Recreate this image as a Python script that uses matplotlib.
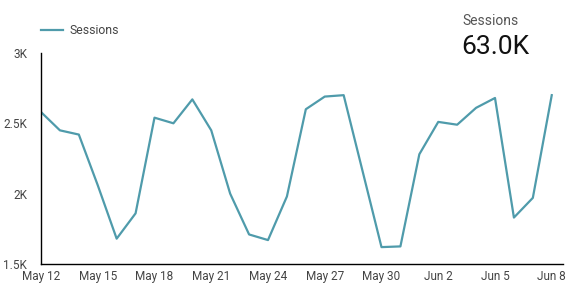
import numpy as np
import pandas as pd
import matplotlib
matplotlib.use("Agg")
import matplotlib.pyplot as plt
import matplotlib.dates as mdates
from matplotlib.ticker import FuncFormatter

plt.rcParams["font.family"] = ["Roboto", "DejaVu Sans"]

dates = pd.date_range("2024-05-12", "2024-06-08", freq="D")
sessions = [2580, 2450, 2420, 2060, 1680, 1860, 2540, 2500, 2670, 2450,
            2000, 1710, 1670, 1980, 2600, 2690, 2700, 2160, 1620, 1625,
            2280, 2510, 2490, 2610, 2680, 1830, 1970, 2700]
total_label = "63.0K"
yticks = [1500, 2000, 2500, 3000]

LINE = "#4f9bab"
GREY = "#444444"

fig = plt.figure(figsize=(5.79, 2.91), dpi=100)
ax = fig.add_axes([0.0708, 0.0928, 0.9012, 0.7252])

ax.plot(dates, sessions, color=LINE, lw=1.6, label="Sessions")

ax.set_ylim(1500, 3000)
ax.set_yticks(yticks)
ax.yaxis.set_major_formatter(FuncFormatter(lambda v, p: f"{v/1000:g}K"))
ax.set_xlim(dates[0], dates[-1] + pd.Timedelta(hours=14))
ax.xaxis.set_major_locator(mdates.DayLocator(bymonthday=[12, 15, 18, 21, 24, 27, 30, 2, 5, 8]))
ax.xaxis.set_major_formatter(mdates.DateFormatter("%b %-d"))

for s in ("top", "right"):
    ax.spines[s].set_visible(False)
for s in ("left", "bottom"):
    ax.spines[s].set_color("black")
    ax.spines[s].set_linewidth(1.0)
ax.tick_params(length=0, labelsize=8.5, colors=GREY, pad=4)
ax.tick_params(axis="y", pad=10)

ax.legend(loc="center left", bbox_to_anchor=(0.0, 1.105), frameon=False,
          fontsize=8.8, handlelength=1.8, handletextpad=0.5, labelcolor=GREY,
          borderpad=0, borderaxespad=0)

fig.text(0.798, 0.915, "Sessions", fontsize=10, color="#555555", va="baseline")
fig.text(0.796, 0.815, total_label, fontsize=19, color="#111111", va="baseline")

fig.savefig("out.png", dpi=100)
